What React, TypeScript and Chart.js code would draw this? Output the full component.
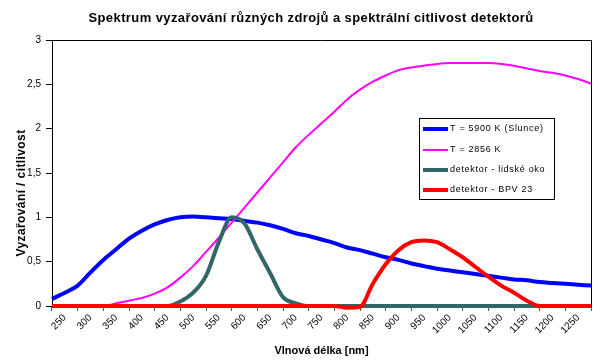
import React, { useEffect, useRef } from "react";
import { Chart, registerables } from "chart.js";

Chart.register(...registerables);

const chartTitle = "Spektrum vyzařování různých zdrojů a spektrální citlivost detektorů";
const yAxisTitle = "Vyzařování / citlivost";
const xAxisTitle = "Vlnová délka [nm]";

const categoryLabels = [
  "250", "300", "350", "400", "450", "500", "550", "600", "650", "700", "750",
  "800", "850", "900", "950", "1000", "1050", "1100", "1150", "1200", "1250",
];

const wavelengths = [
  225, 250, 275, 300, 325, 350, 375, 400, 425, 450, 475,
  500, 525, 550, 575, 600, 625, 650, 675, 700, 725, 750,
  775, 800, 825, 850, 875, 900, 925, 950, 975, 1000, 1025,
  1050, 1075, 1100, 1125, 1150, 1175, 1200, 1225, 1250, 1275,
];

const sun5900 = [
  0.08, 0.15, 0.23, 0.38, 0.52, 0.64, 0.76, 0.85, 0.92, 0.97, 1.0,
  1.01, 1.0, 0.99, 0.98, 0.96, 0.94, 0.91, 0.87, 0.82, 0.79, 0.75,
  0.71, 0.66, 0.63, 0.59, 0.55, 0.52, 0.48, 0.45, 0.42, 0.4, 0.38,
  0.36, 0.34, 0.32, 0.3, 0.29, 0.27, 0.26, 0.25, 0.24, 0.23,
];

const lamp2856 = [
  0, 0, 0, 0, 0, 0.03, 0.06, 0.09, 0.14, 0.21, 0.32,
  0.45, 0.61, 0.77, 0.94, 1.11, 1.28, 1.45, 1.62, 1.79, 1.93, 2.06,
  2.19, 2.33, 2.44, 2.53, 2.6, 2.66, 2.69, 2.71, 2.73, 2.74, 2.74,
  2.74, 2.74, 2.73, 2.71, 2.68, 2.65, 2.63, 2.6, 2.56, 2.51,
];

const humanEye = [
  0, 0, 0, 0, 0, 0, 0, 0, 0, 0, 0.05,
  0.15, 0.34, 0.72, 1.0, 0.93, 0.64, 0.37, 0.1, 0.03, 0, 0,
  0, 0, 0, 0, 0, 0, 0, 0, 0, 0, 0,
  0, 0, 0, 0, 0, 0, 0, 0, 0, 0,
];

const bpv23 = [
  0, 0, 0, 0, 0, 0, 0, 0, 0, 0, 0,
  0, 0, 0, 0, 0, 0, 0, 0, 0, 0, 0,
  0, -0.02, -0.01, 0.25, 0.47, 0.63, 0.72, 0.74, 0.72, 0.64, 0.55,
  0.44, 0.33, 0.23, 0.15, 0.06, 0, 0, 0, 0, 0,
];

const seriesNames = [
  "T = 5900 K (Slunce)",
  "T = 2856 K",
  "detektor - lidské oko",
  "detektor - BPV 23",
];
const seriesColors = ["#0000FF", "#FF00FF", "#336666", "#FF0000"];
const seriesWidths = [4, 2, 4, 4];
const seriesValues = [sun5900, lamp2856, humanEye, bpv23];

const FONT = '"Liberation Sans", Arial, sans-serif';

const decorPlugin = {
  id: "decor",
  afterDraw(chart: any) {
    const { ctx, chartArea } = chart;
    ctx.save();
    // frame top and right
    ctx.strokeStyle = "#000";
    ctx.lineWidth = 1;
    ctx.beginPath();
    ctx.moveTo(chartArea.left, Math.round(chartArea.top) + 0.5);
    ctx.lineTo(Math.round(chartArea.right) + 0.5, Math.round(chartArea.top) + 0.5);
    ctx.lineTo(Math.round(chartArea.right) + 0.5, chartArea.bottom);
    ctx.stroke();

    // title
    ctx.fillStyle = "#000";
    ctx.font = `bold 13px ${FONT}`;
    ctx.textAlign = "center";
    ctx.textBaseline = "middle";
    try { (ctx as any).letterSpacing = "0.4px"; } catch (e) {}
    ctx.fillText(chartTitle, 311, 18);

    // y axis title
    ctx.save();
    ctx.translate(22, 193);
    ctx.rotate(-Math.PI / 2);
    ctx.font = `bold 12px ${FONT}`;
    try { (ctx as any).letterSpacing = "0.4px"; } catch (e) {}
    ctx.fillText(yAxisTitle, 0, 0);
    ctx.restore();

    // legend
    const lx = 419.5, ly = 118.5, lw = 135, lh = 81;
    ctx.fillStyle = "#fff";
    ctx.fillRect(lx, ly, lw, lh);
    ctx.strokeStyle = "#000";
    ctx.lineWidth = 1;
    ctx.strokeRect(lx, ly, lw, lh);
    const rows = [129, 150, 170, 190];
    ctx.font = `9px ${FONT}`;
    ctx.textAlign = "left";
    ctx.textBaseline = "middle";
    try { (ctx as any).letterSpacing = "0.7px"; } catch (e) {}
    seriesNames.forEach((name, i) => {
      ctx.strokeStyle = seriesColors[i];
      ctx.lineWidth = seriesWidths[i];
      ctx.beginPath();
      ctx.moveTo(423, rows[i]);
      ctx.lineTo(448, rows[i]);
      ctx.stroke();
      ctx.fillStyle = "#000";
      ctx.fillText(name, 450, rows[i]);
    });
    ctx.restore();
  },
};

export default function App() {
  const ref = useRef<HTMLCanvasElement>(null);
  useEffect(() => {
    if (!ref.current) return;
    const datasets = seriesValues.map((vals, i) => ({
      label: seriesNames[i],
      data: vals.map((v, j) => ({ x: wavelengths[j], y: v })),
      borderColor: seriesColors[i],
      backgroundColor: seriesColors[i],
      borderWidth: seriesWidths[i],
      pointRadius: 0,
      cubicInterpolationMode: "monotone" as const,
      xAxisID: "xl",
      yAxisID: "y",
      order: 4 - i,
      clip: false as any,
    }));
    const chart = new Chart(ref.current, {
      type: "line",
      data: { datasets },
      options: {
        animation: false,
        responsive: false,
        devicePixelRatio: 1,
        layout: { padding: { top: 40, right: 9, left: 0, bottom: 0 } },
        plugins: {
          legend: { display: false },
          tooltip: { enabled: false },
          title: { display: false },
        },
        scales: {
          x: {
            type: "category",
            labels: categoryLabels,
            offset: true,
            position: "bottom",
            grid: {
              offset: true,
              drawOnChartArea: false,
              drawTicks: true,
              tickLength: 5,
              color: "#555",
            },
            border: { color: "#000", width: 1 },
            ticks: {
              minRotation: 45,
              maxRotation: 45,
              autoSkip: false,
              color: "#000",
              padding: 1,
              font: { family: FONT, size: 10 },
            },
            title: {
              display: true,
              text: xAxisTitle,
              color: "#000",
              font: { family: FONT, size: 11, weight: "bold" },
              padding: { top: 0, bottom: 2 },
            },
            afterFit: (s: any) => {
              s.height = 54;
            },
          },
          xl: {
            type: "linear",
            min: 225,
            max: 1275,
            display: false,
          },
          y: {
            min: 0,
            max: 3,
            ticks: {
              stepSize: 0.5,
              color: "#000",
              padding: 5,
              font: { family: FONT, size: 10 },
              callback: (v: any) => String(v).replace(".", ","),
            },
            grid: {
              drawOnChartArea: false,
              tickLength: 6,
              color: "#000",
            },
            border: { color: "#000", width: 1 },
            afterFit: (s: any) => {
              s.width = 52;
            },
          },
        },
      },
      plugins: [decorPlugin],
    });
    return () => chart.destroy();
  }, []);
  return (
    <div style={{ position: "fixed", left: 0, top: 0, width: 600, height: 360, background: "#fff" }}>
      <canvas ref={ref} width={600} height={360} style={{ width: 600, height: 360 }} />
    </div>
  );
}
